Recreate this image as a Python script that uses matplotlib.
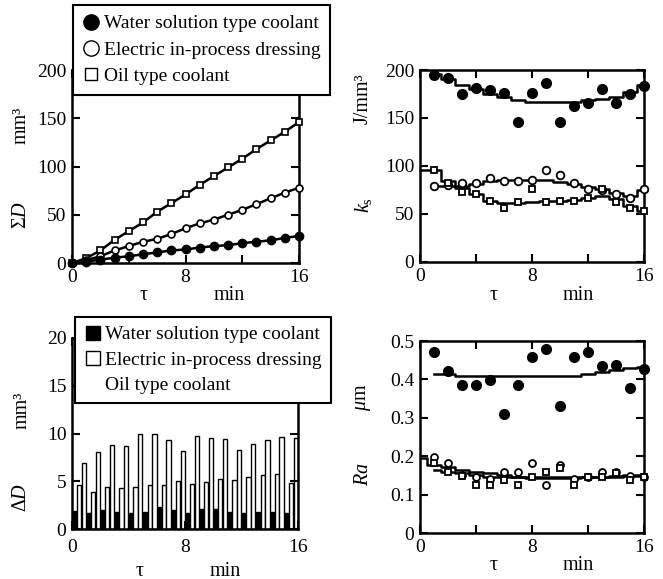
import numpy as np
import matplotlib
matplotlib.use("Agg")
import matplotlib.pyplot as plt
from matplotlib.lines import Line2D

plt.rcParams['font.family'] = ['Liberation Serif', 'DejaVu Serif']
plt.rcParams['mathtext.fontset'] = 'custom'
plt.rcParams['mathtext.rm'] = 'Liberation Serif'
plt.rcParams['mathtext.it'] = 'Liberation Serif:italic'
plt.rcParams['font.size'] = 14

W, H = 663, 579

# time axis (min)
t0 = np.arange(0, 17)   # 0..16, cumulative values / curves starting at 0
t1 = np.arange(1, 17)   # 1..16, per-interval measurements

# cumulative wear volume, sum D (mm^3)
sumD_water = [0, 1.5, 3.5, 5.5, 7, 9, 11, 13, 14, 16, 17.5, 18.5, 20.5, 22, 23.5, 26, 28]
sumD_elid = [0, 3, 7, 13, 17.5, 22, 25, 30, 36, 41, 45, 50, 55, 61, 67, 73, 78]
sumD_oil = [0, 5, 13, 24, 33, 42, 53, 62, 71, 81, 90, 99, 108, 118, 127, 136, 146]

# wear volume per minute, delta D (mm^3)
dD_water = [1.9, 1.7, 2.0, 1.8, 1.7, 1.8, 2.3, 1.95, 1.65, 2.05, 2.05, 1.8, 1.65, 1.8, 1.8, 1.65]
dD_elid = [4.6, 3.9, 4.45, 4.3, 4.35, 4.6, 4.6, 5.0, 4.7, 4.9, 5.2, 5.1, 5.4, 5.7, 5.8, 4.8]
dD_oil = [6.95, 8.1, 8.8, 8.7, 10.0, 9.9, 9.3, 8.2, 9.7, 9.5, 9.4, 8.3, 8.9, 9.35, 9.6, 9.5]

# specific grinding energy ks (J/mm^3)
ks_water = [195, 192, 175, 181, 179, 176, 146, 176, 186, 146, 162, 166, 180, 166, 175, 183]
ks_elid = [79, 80, 82, 82, 88, 84, 84, 85, 96, 91, 82, 76, 75, 71, 67, 76]
ks_oil = [96, 82, 73, 71, 64, 56, 62, 76, 62, 64, 64, 67, 76, 63, 56, 53]
ks_water_fit = [196, 191, 184, 180, 175, 172, 169, 167, 167, 167, 167, 169, 170, 172, 177, 184]      # t1
ks_elid_fit = [79, 79, 79, 81, 84, 85, 85, 85, 85, 83, 81, 78, 76, 72, 69, 75]                       # t1
ks_oil_fit = [96, 96, 84, 77, 71, 64, 61, 61, 63, 64, 64, 65, 67, 69, 66, 58, 53]                    # t0

# surface roughness Ra (um)
ra_water = [0.471, 0.422, 0.385, 0.385, 0.399, 0.309, 0.385, 0.458, 0.478, 0.330,
            0.458, 0.471, 0.434, 0.437, 0.378, 0.428]
ra_elid = [0.199, 0.182, 0.150, 0.145, 0.140, 0.158, 0.158, 0.181, 0.125, 0.176,
           0.140, 0.145, 0.158, 0.160, 0.148, 0.145]
ra_oil = [0.183, 0.160, 0.148, 0.125, 0.125, 0.138, 0.125, 0.145, 0.160, 0.168,
          0.125, 0.145, 0.146, 0.155, 0.138, 0.145]
ra_water_fit = [0.415, 0.415, 0.410, 0.408, 0.408, 0.408, 0.408, 0.408, 0.408, 0.408,
                0.410, 0.415, 0.420, 0.424, 0.430, 0.432]                                          # t1
ra_oil_fit = [0.195, 0.178, 0.172, 0.165, 0.160, 0.155, 0.150, 0.147, 0.145, 0.145,
              0.145, 0.145, 0.145, 0.146, 0.148, 0.150, 0.150]                                      # t0
ra_elid_fit = [0.165, 0.160, 0.155, 0.150, 0.147, 0.145, 0.145, 0.143, 0.143, 0.143,
               0.143, 0.145, 0.145, 0.147, 0.148, 0.148]                                            # t1

labels = ["Water solution type coolant", "Electric in-process dressing", "Oil type coolant"]


def px_axes(fig, left, top, right, bottom):
    # axes box given in pixel coordinates of the image
    return fig.add_axes([left / W, 1 - bottom / H, (right - left) / W, (bottom - top) / H])


def style_axes(ax, ymax, ystep, ylabels=None):
    ax.set_xlim(0, 16)
    ax.set_ylim(0, ymax)
    ax.set_xticks([0, 8, 16])
    ax.set_xticks([4, 12], minor=True)
    yt = np.arange(0, ymax + ystep / 2, ystep)
    ax.set_yticks(yt)
    if ylabels is not None:
        ax.set_yticklabels(ylabels)
    ax.tick_params(which='both', direction='in', top=True, right=True,
                   width=1.5, length=6, labelsize=14)
    ax.tick_params(axis='x', pad=4)
    ax.tick_params(axis='y', pad=4)
    for s in ax.spines.values():
        s.set_linewidth(1.8)


def ylab(x, y, s):
    fig.text(x / W, 1 - y / H, s, rotation=90, ha='center', va='center', fontsize=14.5)


def xlab(y, x_tau, x_min):
    fig.text(x_tau / W, 1 - y / H, "τ", ha='center', va='center', fontsize=14.5)
    fig.text(x_min / W, 1 - y / H, "min", ha='center', va='center', fontsize=14.5)


fig = plt.figure(figsize=(W / 100, H / 100), dpi=100)

# ---- sum D ----
ax1 = px_axes(fig, 72, 70, 299, 263)
ax1.plot(t0, sumD_oil, '-s', color='k', lw=1.8, ms=5, mfc='white', mec='k', mew=1.2, zorder=3, clip_on=False)
ax1.plot(t0, sumD_elid, '-o', color='k', lw=1.8, ms=5, mfc='white', mec='k', mew=1.2, zorder=3, clip_on=False)
ax1.plot(t0, sumD_water, '-o', color='k', lw=1.8, ms=6, mfc='k', mec='k', zorder=3, clip_on=False)
style_axes(ax1, 200, 50)
ylab(21, 215, r"$\Sigma D$")
ylab(21, 125, "mm³")
xlab(296, 144, 229)

h1 = [Line2D([], [], ls='none', marker='o', ms=11, mfc='k', mec='k'),
      Line2D([], [], ls='none', marker='o', ms=11, mfc='white', mec='k', mew=1),
      Line2D([], [], ls='none', marker='s', ms=8, mfc='white', mec='k', mew=1)]
leg1 = fig.legend(h1, labels, loc='upper left', bbox_to_anchor=(73 / W, 1 - 5 / H),
                  frameon=True, fancybox=False, edgecolor='k', framealpha=1,
                  borderaxespad=0, handlelength=0.9, handletextpad=0.2,
                  labelspacing=0.45, borderpad=0.5, fontsize=14)
leg1.get_frame().set_linewidth(1.5)

# ---- ks ----
ax2 = px_axes(fig, 420, 70, 644, 262)
ax2.plot(t1, ks_water_fit, color='k', lw=1.8, drawstyle='steps-mid')
ax2.plot(t1, ks_elid_fit, color='k', lw=1.8, drawstyle='steps-mid')
ax2.plot(t0, ks_oil_fit, color='k', lw=1.8, drawstyle='steps-mid')
ax2.plot(t1, ks_water, 'o', ms=7, mfc='k', mec='k', zorder=3, clip_on=False)
ax2.plot(t1, ks_elid, 'o', ms=5.5, mfc='white', mec='k', mew=1.3, zorder=3, clip_on=False)
ax2.plot(t1, ks_oil, 's', ms=5, mfc='white', mec='k', mew=1.3, zorder=3, clip_on=False)
style_axes(ax2, 200, 50)
ylab(363, 205, r"$k_{\rm s}$")
ylab(363, 99, "J/mm³")
xlab(296, 494, 578)

# ---- delta D ----
ax3 = px_axes(fig, 72, 338, 298, 529)
bw = 0.3
ax3.bar(t1 - 5 / 6, dD_water, width=bw, color='k', edgecolor='k', lw=1)
ax3.bar(t1 - 1 / 2, dD_elid, width=bw, color='white', edgecolor='k', lw=1)
ax3.bar(t1 - 1 / 6, dD_oil, width=bw, color='white', edgecolor='k', lw=1)
style_axes(ax3, 20, 5)
ax3.tick_params(axis='x', pad=7)
ylab(22, 497, r"$\Delta D$")
ylab(22, 410, "mm³")
xlab(571, 140, 225)

h3 = [Line2D([], [], ls='none', marker='s', ms=10, mfc='k', mec='k'),
      Line2D([], [], ls='none', marker='s', ms=10, mfc='white', mec='k', mew=1),
      Line2D([], [], ls='none', marker='none')]
leg3 = fig.legend(h3, labels, loc='upper left', bbox_to_anchor=(75 / W, 1 - 317 / H),
                  frameon=True, fancybox=False, edgecolor='k', framealpha=1,
                  borderaxespad=0, handlelength=0.9, handletextpad=0.2,
                  labelspacing=0.4, borderpad=0.45, fontsize=14)
leg3.get_frame().set_linewidth(1.5)

# ---- Ra ----
ax4 = px_axes(fig, 420, 341, 644, 533)
ax4.plot(t1, ra_water_fit, color='k', lw=1.8, drawstyle='steps-mid')
ax4.plot(t0, ra_oil_fit, color='k', lw=1.8, drawstyle='steps-mid')
ax4.plot(t1, ra_elid_fit, color='k', lw=1.8, drawstyle='steps-mid')
ax4.plot(t1, ra_water, 'o', ms=7, mfc='k', mec='k', zorder=3, clip_on=False)
ax4.plot(t1, ra_elid, 'o', ms=5, mfc='white', mec='k', mew=1.3, zorder=3, clip_on=False)
ax4.plot(t1, ra_oil, 's', ms=4.5, mfc='white', mec='k', mew=1.3, zorder=3, clip_on=False)
style_axes(ax4, 0.5, 0.1, ["0", "0.1", "0.2", "0.3", "0.4", "0.5"])
ylab(363, 474, r"$Ra$")
ylab(363, 397, r"$\mu$m")
xlab(566, 494, 578)

fig.savefig("out.png", dpi=100)
